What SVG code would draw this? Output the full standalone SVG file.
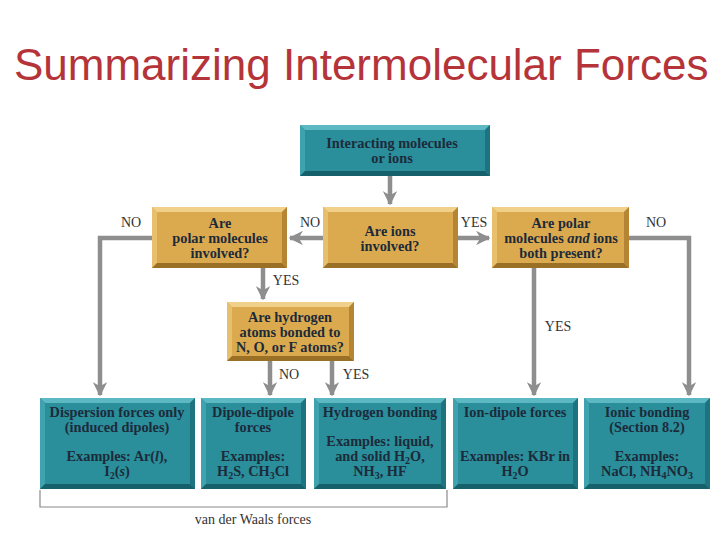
<svg xmlns="http://www.w3.org/2000/svg" width="720" height="540" viewBox="0 0 720 540">
<style>
.title{font-family:"Liberation Sans",Arial,sans-serif;font-size:44px;fill:#b5343a}
.bt{font-family:"Liberation Serif","DejaVu Serif",serif;font-weight:bold;font-size:14.3px;fill:#1c2b3a;text-anchor:middle}
.lb{font-family:"Liberation Serif","DejaVu Serif",serif;font-size:14px;fill:#333;text-anchor:middle}
.teal{fill:#2a8e9b}
.tealT{fill:#5cb8c2}
.tealL{fill:#3ea3ae}
.tealB{fill:#16606b}
.tealR{fill:#1d737e}
.gold{fill:#dcaa4e}
.goldT{fill:#f1d08a}
.goldL{fill:#e8bf6c}
.goldB{fill:#9a7026}
.goldR{fill:#b58534}
.con{stroke:#8e8e8e;stroke-width:4.5;fill:none}
.sub{font-size:10px}
</style>
<defs>
<marker id="ah" viewBox="0 0 10 10" refX="9" refY="5" markerWidth="3.2" markerHeight="3.2" orient="auto" markerUnits="strokeWidth">
<path d="M0,0 L10,5 L0,10 L3,5 Z" fill="#8e8e8e"/>
</marker>
</defs>
<rect width="720" height="540" fill="#fff"/>
<text class="title" x="14" y="80">Summarizing Intermolecular Forces</text>

<g id="connectors">
<path class="con" d="M390,176 V204" marker-end="url(#ah)"/>
<path class="con" d="M323,238 H290" marker-end="url(#ah)"/>
<path class="con" d="M458,238 H489" marker-end="url(#ah)"/>
<path class="con" d="M152,238 H100 V395" marker-end="url(#ah)"/>
<path class="con" d="M263,268 V299" marker-end="url(#ah)"/>
<path class="con" d="M270,361 V395" marker-end="url(#ah)"/>
<path class="con" d="M332,361 V395" marker-end="url(#ah)"/>
<path class="con" d="M534,268 V395" marker-end="url(#ah)"/>
<path class="con" d="M629,238 H689 V395" marker-end="url(#ah)"/>
<path d="M40,490 V507 H447 V490" fill="none" stroke="#8a8a8a" stroke-width="1.2"/>
<text class="lb" x="131" y="227">NO</text>
<text class="lb" x="310" y="227">NO</text>
<text class="lb" x="474" y="227">YES</text>
<text class="lb" x="656" y="227">NO</text>
<text class="lb" x="286" y="285">YES</text>
<text class="lb" x="289" y="379">NO</text>
<text class="lb" x="356" y="379">YES</text>
<text class="lb" x="558" y="331">YES</text>
<text class="lb" x="253" y="524">van der Waals forces</text>
</g>

<g id="start">
<rect class="teal" x="300" y="125" width="190" height="51"/>
<polygon class="tealT" points="300,125 490,125 485,130 305,130"/>
<polygon class="tealL" points="300,125 305,130 305,171 300,176"/>
<polygon class="tealB" points="300,176 305,171 485,171 490,176"/>
<polygon class="tealR" points="490,125 490,176 485,171 485,130"/>
<text class="bt" x="392" y="148">Interacting molecules</text>
<text class="bt" x="392" y="163">or ions</text>
</g>

<g id="q-polar">
<rect class="gold" x="152" y="207" width="135" height="61"/>
<polygon class="goldT" points="152,207 287,207 282,212 157,212"/>
<polygon class="goldL" points="152,207 157,212 157,263 152,268"/>
<polygon class="goldB" points="152,268 157,263 282,263 287,268"/>
<polygon class="goldR" points="287,207 287,268 282,263 282,212"/>
<text class="bt" x="220" y="228">Are</text>
<text class="bt" x="220" y="243">polar molecules</text>
<text class="bt" x="220" y="258">involved?</text>
</g>

<g id="q-ions">
<rect class="gold" x="323" y="207" width="135" height="61"/>
<polygon class="goldT" points="323,207 458,207 453,212 328,212"/>
<polygon class="goldL" points="323,207 328,212 328,263 323,268"/>
<polygon class="goldB" points="323,268 328,263 453,263 458,268"/>
<polygon class="goldR" points="458,207 458,268 453,263 453,212"/>
<text class="bt" x="390" y="236">Are ions</text>
<text class="bt" x="390" y="251">involved?</text>
</g>

<g id="q-both">
<rect class="gold" x="492" y="207" width="137" height="61"/>
<polygon class="goldT" points="492,207 629,207 624,212 497,212"/>
<polygon class="goldL" points="492,207 497,212 497,263 492,268"/>
<polygon class="goldB" points="492,268 497,263 624,263 629,268"/>
<polygon class="goldR" points="629,207 629,268 624,263 624,212"/>
<text class="bt" x="561" y="228">Are polar</text>
<text class="bt" x="561" y="243">molecules <tspan font-style="italic">and</tspan> ions</text>
<text class="bt" x="561" y="258">both present?</text>
</g>

<g id="q-hydrogen">
<rect class="gold" x="227" y="302" width="127" height="59"/>
<polygon class="goldT" points="227,302 354,302 349,307 232,307"/>
<polygon class="goldL" points="227,302 232,307 232,356 227,361"/>
<polygon class="goldB" points="227,361 232,356 349,356 354,361"/>
<polygon class="goldR" points="354,302 354,361 349,356 349,307"/>
<text class="bt" x="290" y="322">Are hydrogen</text>
<text class="bt" x="290" y="337">atoms bonded to</text>
<text class="bt" x="290" y="352">N, O, or F atoms?</text>
</g>

<g id="dispersion">
<rect class="teal" x="40" y="398" width="155" height="91"/>
<polygon class="tealT" points="40,398 195,398 190,403 45,403"/>
<polygon class="tealL" points="40,398 45,403 45,484 40,489"/>
<polygon class="tealB" points="40,489 45,484 190,484 195,489"/>
<polygon class="tealR" points="195,398 195,489 190,484 190,403"/>
<text class="bt" x="117" y="417">Dispersion forces only</text>
<text class="bt" x="117" y="432">(induced dipoles)</text>
<text class="bt" x="117" y="461">Examples: Ar(<tspan font-style="italic">l</tspan>),</text>
<text class="bt" x="117" y="476">I<tspan class="sub" dy="3">2</tspan><tspan dy="-3">(</tspan><tspan font-style="italic">s</tspan>)</text>
</g>

<g id="dipole-dipole">
<rect class="teal" x="201" y="398" width="105" height="91"/>
<polygon class="tealT" points="201,398 306,398 301,403 206,403"/>
<polygon class="tealL" points="201,398 206,403 206,484 201,489"/>
<polygon class="tealB" points="201,489 206,484 301,484 306,489"/>
<polygon class="tealR" points="306,398 306,489 301,484 301,403"/>
<text class="bt" x="253" y="417">Dipole-dipole</text>
<text class="bt" x="253" y="432">forces</text>
<text class="bt" x="253" y="461">Examples:</text>
<text class="bt" x="253" y="476">H<tspan class="sub" dy="3">2</tspan><tspan dy="-3">S, CH</tspan><tspan class="sub" dy="3">3</tspan><tspan dy="-3">Cl</tspan></text>
</g>

<g id="hydrogen-bonding">
<rect class="teal" x="314" y="398" width="132" height="91"/>
<polygon class="tealT" points="314,398 446,398 441,403 319,403"/>
<polygon class="tealL" points="314,398 319,403 319,484 314,489"/>
<polygon class="tealB" points="314,489 319,484 441,484 446,489"/>
<polygon class="tealR" points="446,398 446,489 441,484 441,403"/>
<text class="bt" x="380" y="417">Hydrogen bonding</text>
<text class="bt" x="380" y="446">Examples: liquid,</text>
<text class="bt" x="380" y="461">and solid H<tspan class="sub" dy="3">2</tspan><tspan dy="-3">O,</tspan></text>
<text class="bt" x="380" y="476">NH<tspan class="sub" dy="3">3</tspan><tspan dy="-3">, HF</tspan></text>
</g>

<g id="ion-dipole">
<rect class="teal" x="453" y="398" width="125" height="91"/>
<polygon class="tealT" points="453,398 578,398 573,403 458,403"/>
<polygon class="tealL" points="453,398 458,403 458,484 453,489"/>
<polygon class="tealB" points="453,489 458,484 573,484 578,489"/>
<polygon class="tealR" points="578,398 578,489 573,484 573,403"/>
<text class="bt" x="515" y="417">Ion-dipole forces</text>
<text class="bt" x="515" y="461">Examples: KBr in</text>
<text class="bt" x="515" y="476">H<tspan class="sub" dy="3">2</tspan><tspan dy="-3">O</tspan></text>
</g>

<g id="ionic-bonding">
<rect class="teal" x="584" y="398" width="126" height="91"/>
<polygon class="tealT" points="584,398 710,398 705,403 589,403"/>
<polygon class="tealL" points="584,398 589,403 589,484 584,489"/>
<polygon class="tealB" points="584,489 589,484 705,484 710,489"/>
<polygon class="tealR" points="710,398 710,489 705,484 705,403"/>
<text class="bt" x="647" y="417">Ionic bonding</text>
<text class="bt" x="647" y="432">(Section 8.2)</text>
<text class="bt" x="647" y="461">Examples:</text>
<text class="bt" x="647" y="476">NaCl, NH<tspan class="sub" dy="3">4</tspan><tspan dy="-3">NO</tspan><tspan class="sub" dy="3">3</tspan></text>
</g>
</svg>
